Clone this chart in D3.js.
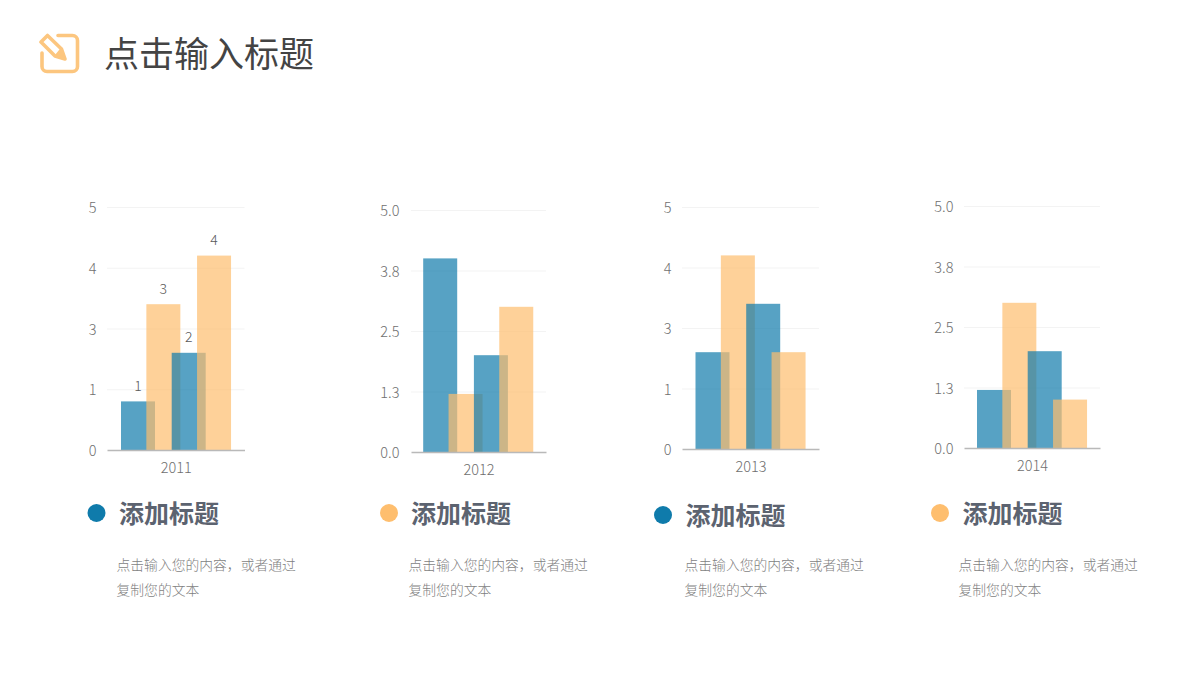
<!DOCTYPE html>
<html><head><meta charset="utf-8">
<script src="https://cdn.jsdelivr.net/npm/d3@7/dist/d3.min.js"></script>
<style>html,body{margin:0;padding:0;background:#fff}svg{display:block;opacity:.999}</style>
</head><body><svg id="c" width="1200" height="680"></svg>
<script>
const title = "点击输入标题";
const years = ["2011","2012","2013","2014"];
const slots = ["a","b","c","d"];
const values2011 = [1,3,2,4];
const values2012 = [4,1.2,2,3];
const values2013 = [2,4,3,2];
const values2014 = [1.2,3,2,1];
const yTicks = [0,1.25,2.5,3.75,5];
const tickDigits = [0,1,0,1];
const pointLabels2011 = ["1","3","2","4"];
const headings = ["添加标题","添加标题","添加标题","添加标题"];
const bodyLine1 = "点击输入您的内容，或者通过";
const bodyLine2 = "复制您的文本";

const BLUE="#0f7bab", ORANGE="#febe6e";
const FONT="'Noto Sans CJK SC','Noto Sans',sans-serif";
const svg=d3.select("#c");
const frames=[
 {x0:107,x1:244.5,top:207,base:450,bar:121,pad:10.5},
 {x0:411,x1:546,top:210,base:452,bar:423.2,pad:11.5},
 {x0:682,x1:819,top:207,base:449,bar:695.5,pad:10.5},
 {x0:964,x1:1100,top:206,base:448,bar:977,pad:10.5}];
const captions=[
 {dot:96.5,dotY:513,head:119,headY:523,body:116.5,b1:570,b2:595},
 {dot:389,dotY:513,head:411,headY:523,body:408.5,b1:570,b2:595},
 {dot:663,dotY:515,head:685.5,headY:525,body:684.5,b1:570,b2:595},
 {dot:940,dotY:513,head:962.5,headY:523,body:958.5,b1:570,b2:595}];
const allValues=[values2011,values2012,values2013,values2014];

// title + icon
svg.append("text").attr("x",104).attr("y",66.5).attr("font-family",FONT)
  .attr("font-size",35).attr("font-weight",400).attr("fill","#444444").text(title);
const ic=svg.append("g").attr("fill","none").attr("stroke","#fcc67f").attr("stroke-width",3.6)
  .attr("stroke-linecap","round").attr("stroke-linejoin","round");
ic.append("path").attr("d","M58 35.5H72.5a5 5 0 0 1 5 5V66.5a5 5 0 0 1-5 5H47a5 5 0 0 1-5-5V53");
ic.append("path").attr("d","M47.5 35.5L41 42L55 56L65 59L61.5 49Z");
ic.append("path").attr("d","M64 58L60 50L56 55Z").attr("fill","#fcc67f").attr("stroke-width",1.5);

frames.forEach((f,i)=>{
  const vals=allValues[i];
  const g=svg.append("g");
  const y=d3.scaleLinear().domain([0,5]).range([f.base,f.top]);
  const fmt=d3.format("."+tickDigits[i]+"f");
  g.append("g").selectAll("line").data(yTicks.slice(1)).join("line")
    .attr("x1",f.x0).attr("x2",f.x1).attr("y1",d=>y(d)+.5).attr("y2",d=>y(d)+.5)
    .attr("stroke","#f3f3f3").attr("stroke-width",1);
  const ya=g.append("g").attr("transform",`translate(${f.x0},1)`)
    .call(d3.axisLeft(y).tickValues(yTicks).tickFormat(fmt).tickSize(0).tickPadding(f.pad));
  ya.select(".domain").remove();
  ya.selectAll("text").attr("font-family",FONT).attr("font-size",14.5).attr("font-weight",300).attr("fill","#6f6f6f");
  const step=25.35, w=34;
  const x=d3.scaleBand().domain(slots).range([f.bar,f.bar+step*4]);
  g.append("g").selectAll("rect").data(vals).join("rect")
    .attr("x",(d,k)=>x(slots[k])).attr("width",w)
    .attr("y",d=>y(d)).attr("height",d=>f.base-y(d))
    .attr("fill",(d,k)=>k%2?ORANGE:BLUE).attr("fill-opacity",.7);
  const xs=d3.scalePoint().domain([years[i]]).range([f.x0,f.x1]).padding(.5);
  const xa=g.append("g").attr("transform",`translate(0,${f.base})`)
    .call(d3.axisBottom(xs).tickSize(0).tickPadding(13));
  xa.select(".domain").attr("stroke","#b9b9b9").attr("stroke-width",1.5);
  xa.selectAll("text").attr("font-family",FONT).attr("font-size",14.5).attr("font-weight",300).attr("fill","#6f6f6f");
  if(i===0){
    g.append("g").selectAll("text").data(vals).join("text")
      .attr("x",(d,k)=>x(slots[k])+w/2).attr("y",d=>y(d)-10.5).attr("text-anchor","middle")
      .attr("font-family",FONT).attr("font-size",14).attr("font-weight",300).attr("fill","#595959")
      .text((d,k)=>pointLabels2011[k]);
  }
  const c=captions[i];
  svg.append("circle").attr("cx",c.dot).attr("cy",c.dotY).attr("r",9).attr("fill",i%2?ORANGE:BLUE);
  svg.append("text").attr("x",c.head).attr("y",c.headY).attr("font-family",FONT).attr("font-size",25)
    .attr("font-weight",700).attr("fill","#5c6370").text(headings[i]);
  svg.append("text").attr("x",c.body).attr("y",c.b1).attr("font-family",FONT).attr("font-size",13.8)
    .attr("font-weight",300).attr("fill","#7f7f7f").text(bodyLine1);
  svg.append("text").attr("x",c.body).attr("y",c.b2).attr("font-family",FONT).attr("font-size",13.8)
    .attr("font-weight",300).attr("fill","#7f7f7f").text(bodyLine2);
});
</script></body></html>
